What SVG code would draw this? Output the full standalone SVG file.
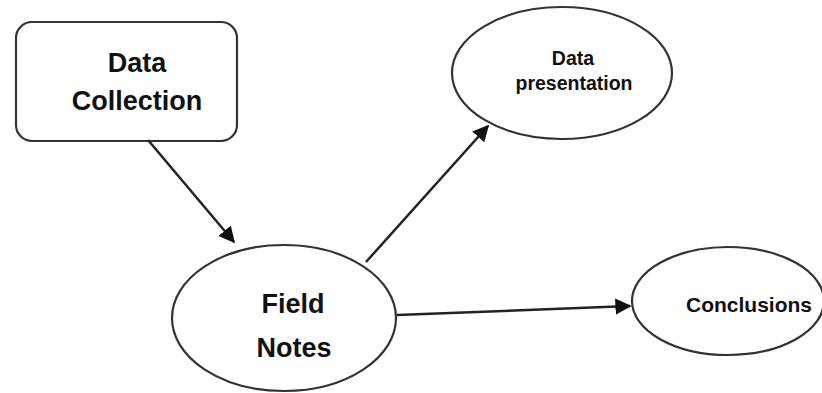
<svg xmlns="http://www.w3.org/2000/svg" width="822" height="393" viewBox="0 0 822 393">
<style>
.shape{fill:#fff;stroke:#333;stroke-width:2.2}
.t{font-family:"Liberation Sans",Arial,sans-serif;font-weight:bold;fill:#111;text-anchor:middle}
.edge{stroke:#222;stroke-width:2.5;fill:none;marker-end:url(#ah)}
</style>
<defs>
<marker id="ah" viewBox="0 0 10 10" refX="9" refY="5" markerWidth="6.5" markerHeight="6.5" markerUnits="strokeWidth" orient="auto">
<path d="M0,0 L10,5 L0,10 z" fill="#111"/>
</marker>
</defs>
<rect width="822" height="393" fill="#fff"/>
<g id="data-collection">
<rect class="shape" x="16" y="22" width="221" height="119" rx="16"/>
<text class="t" x="137" y="72" font-size="27">Data</text>
<text class="t" x="137" y="110" font-size="27">Collection</text>
</g>
<g id="field-notes">
<ellipse class="shape" cx="284" cy="318" rx="112" ry="73"/>
<text class="t" x="293" y="313" font-size="27">Field</text>
<text class="t" x="294" y="357" font-size="27">Notes</text>
</g>
<g id="data-presentation">
<ellipse class="shape" cx="562" cy="73" rx="110" ry="66"/>
<text class="t" x="573" y="65" font-size="19.5">Data</text>
<text class="t" x="574" y="90" font-size="19.5">presentation</text>
</g>
<g id="conclusions">
<ellipse class="shape" cx="728" cy="301" rx="96" ry="54"/>
<text class="t" x="749" y="312" font-size="21">Conclusions</text>
</g>
<g id="connectors">
<line class="edge" x1="148" y1="140" x2="234" y2="242"/>
<line class="edge" x1="366" y1="262" x2="488" y2="126"/>
<line class="edge" x1="397" y1="315" x2="630" y2="306"/>
</g>
</svg>
